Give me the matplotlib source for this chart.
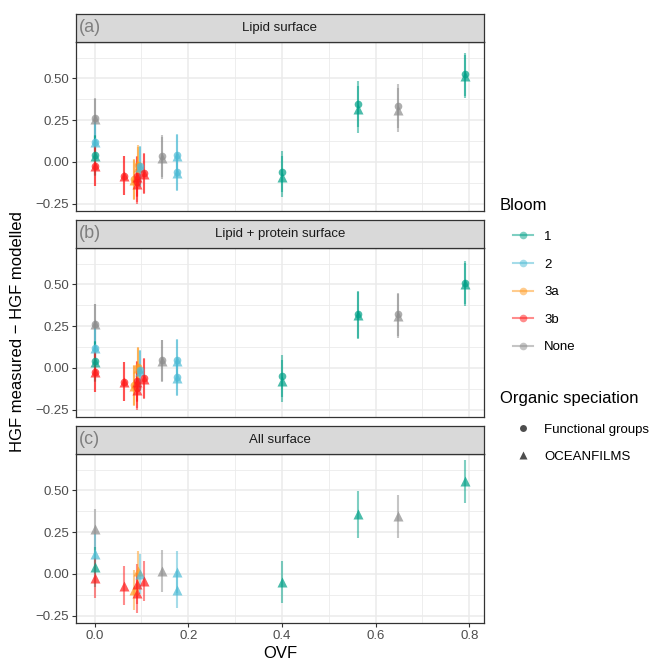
import numpy as np
import matplotlib.pyplot as plt
from matplotlib.lines import Line2D

plt.rcParams['font.family'] = ['Liberation Sans', 'DejaVu Sans']

# facets
panel_titles = ["Lipid surface", "Lipid + protein surface", "All surface"]
panel_tags = ["(a)", "(b)", "(c)"]

# bloom colours
bloom_levels = ["1", "2", "3a", "3b", "None"]
bloom_colors = ["#00A087", "#4DBBD5", "#FF9A1F", "#FF1A1A", "#8C8C8C"]

# samples (same OVF / bloom in every panel)
ovf = [0.0, 0.0, 0.0, 0.0, 0.0625, 0.085, 0.090, 0.091, 0.093, 0.098, 0.105,
       0.145, 0.177, 0.177, 0.400, 0.562, 0.649, 0.791]
bloom = ["None", "2", "1", "3b", "3b", "3a", "3b", "3b", "3a", "2", "3b",
         "None", "2", "2", "1", "1", "None", "1"]
err = [0.12, 0.12, 0.12, 0.12, 0.117, 0.12, 0.12, 0.12, 0.12, 0.12, 0.12,
       0.125, 0.126, 0.11, 0.125, 0.14, 0.13, 0.13]

# HGF measured - HGF modelled, functional groups (circle) / OCEANFILMS (triangle)
fg_a = [0.26, 0.12, 0.04, -0.025, -0.084, -0.10, -0.12, -0.085, -0.02, -0.025, -0.065,
        0.035, 0.04, -0.06, -0.058, 0.347, 0.335, 0.524]
of_a = [0.257, 0.12, 0.036, -0.026, -0.084, -0.11, -0.13, -0.09, -0.03, -0.03, -0.07,
        0.025, 0.035, -0.065, -0.088, 0.315, 0.311, 0.512]
fg_b = [0.26, 0.12, 0.04, -0.025, -0.084, -0.10, -0.12, -0.08, 0.005, -0.015, -0.06,
        0.045, 0.048, -0.055, -0.05, 0.32, 0.32, 0.51]
of_b = [0.26, 0.12, 0.036, -0.026, -0.084, -0.11, -0.13, -0.085, 0.0, -0.02, -0.064,
        0.04, 0.044, -0.06, -0.08, 0.315, 0.31, 0.50]
fg_c = [np.nan] * 18
of_c = [0.266, 0.12, 0.04, -0.024, -0.07, -0.094, -0.114, -0.06, 0.016, 0.0, -0.044,
        0.016, 0.01, -0.094, -0.05, 0.357, 0.345, 0.555]

fg_all = [fg_a, fg_b, fg_c]
of_all = [of_a, of_b, of_c]

W, H = 655, 663
fig = plt.figure(figsize=(W / 100, H / 100), dpi=100)

left, right = 76, 484
panel_px = [(42, 211), (248, 417), (454, 623)]
strip_h = 28
cmap = dict(zip(bloom_levels, bloom_colors))
msize = {'o': 5.5, '^': 7}

for i, (top, bot) in enumerate(panel_px):
    ax = fig.add_axes([left / W, 1 - bot / H, (right - left) / W, (bot - top) / H])
    ax.set_xlim(-0.0396, 0.8316)
    ax.set_ylim(-0.294, 0.718)
    ax.set_xticks([0, 0.2, 0.4, 0.6, 0.8])
    ax.set_xticks([0.1, 0.3, 0.5, 0.7], minor=True)
    ax.set_yticks([-0.25, 0, 0.25, 0.5])
    ax.set_yticks([-0.125, 0.125, 0.375, 0.625], minor=True)
    ax.set_yticklabels(["−0.25", "0.00", "0.25", "0.50"])
    ax.grid(which='major', color='#EBEBEB', lw=1.1)
    ax.grid(which='minor', color='#EBEBEB', lw=0.6)
    ax.set_axisbelow(True)
    for s in ax.spines.values():
        s.set_color('#333333')
        s.set_linewidth(0.9)
    ax.tick_params(which='major', length=3, color='#333333', labelsize=9.5,
                   labelcolor='#4D4D4D', pad=2)
    ax.tick_params(which='minor', length=0)
    if i < 2:
        ax.tick_params(axis='x', which='both', bottom=False, labelbottom=False)
    else:
        ax.set_xticklabels(["0.0", "0.2", "0.4", "0.6", "0.8"])
        ax.set_xlabel("OVF", fontsize=12, labelpad=3)

    fg, of = fg_all[i], of_all[i]
    for x, b, e, yc, yt in zip(ovf, bloom, err, fg, of):
        c = cmap[b]
        for y, m in ((yc, 'o'), (yt, '^')):
            if np.isnan(y):
                continue
            ax.plot([x, x], [y - e, y + e], color=c, alpha=0.5, lw=1.5,
                    solid_capstyle='butt', zorder=2)
            ax.plot(x, y, marker=m, ms=msize[m], color=c, alpha=0.7, mec='none',
                    zorder=3)

    sx = fig.add_axes([left / W, 1 - top / H, (right - left) / W, strip_h / H])
    sx.set_facecolor('#D9D9D9')
    sx.set_xticks([])
    sx.set_yticks([])
    for s in sx.spines.values():
        s.set_color('#333333')
        s.set_linewidth(0.9)
    sx.text(0.5, 0.5, panel_titles[i], ha='center', va='center', fontsize=9.5,
            color='#1A1A1A', transform=sx.transAxes)
    sx.text(0.006, 0.5, panel_tags[i], ha='left', va='center', fontsize=13,
            color='#7F7F7F', transform=sx.transAxes)

fig.text(18 / W, 1 - 332 / H, "HGF measured − HGF modelled", rotation=90,
         ha='center', va='center', fontsize=12)

# legends
fig.text(500 / W, 1 - 206 / H, "Bloom", ha='left', va='center', fontsize=12)
bloom_handles = [Line2D([0], [0], color=c, lw=1.5, alpha=0.5, marker='o', ms=5.5,
                        mfc=c, mec='none') for c in bloom_colors]
fig.legend(bloom_handles, bloom_levels, loc='upper left',
           bbox_to_anchor=(501 / W, 1 - 219 / H), frameon=False, fontsize=9.5,
           handlelength=1.52, handletextpad=0.85, labelspacing=1.16)

fig.text(500 / W, 1 - 399 / H, "Organic speciation", ha='left', va='center',
         fontsize=12)
shape_handles = [Line2D([0], [0], ls='none', marker='o', ms=5, color='#4D4D4D',
                        mec='none'),
                 Line2D([0], [0], ls='none', marker='^', ms=6, color='#4D4D4D',
                        mec='none')]
fig.legend(shape_handles, ["Functional groups", "OCEANFILMS"], loc='upper left',
           bbox_to_anchor=(501 / W, 1 - 412 / H), frameon=False, fontsize=9.5,
           handlelength=1.52, handletextpad=0.85, labelspacing=1.1)

fig.savefig("out.png", dpi=100)
